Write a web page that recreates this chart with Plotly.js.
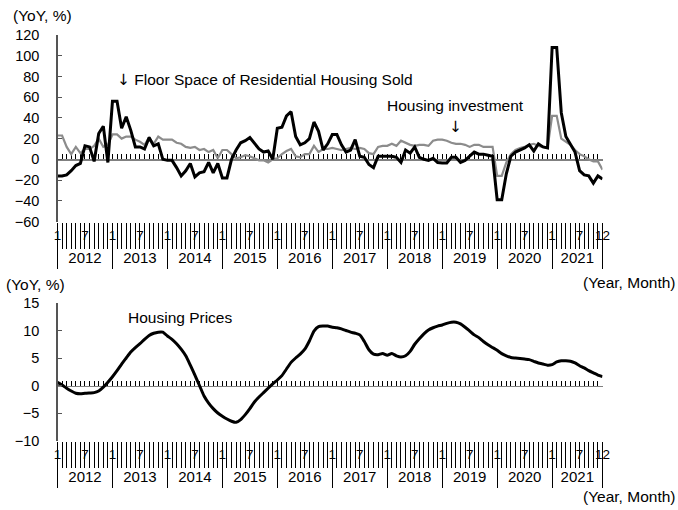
<!DOCTYPE html>
<html>
<head>
<meta charset="utf-8">
<script src="https://cdn.plot.ly/plotly-3.0.1.min.js"></script>
<style>
  html, body { margin: 0; padding: 0; background: #fff; }
  #chart { width: 678px; height: 510px; }
</style>
</head>
<body>
<div id="chart"></div>
<script>
/* ── Data: monthly YoY %, Jan 2012 .. Dec 2021 (index 0..119) ── */
const floorSold = [
  -16, -16, -15, -11, -6, -4, 13, 12, -2, 25, 32, -3,
  56, 56, 30, 41, 28, 12, 12, 10, 21, 13, 15, 0,
  -1, -1, -8, -16, -11, -4, -17, -13, -12, -3, -13, -4,
  -18, -18, 0, 9, 16, 18, 21, 15, 10, 7, 8, 0,
  30, 31, 42, 46, 22, 14, 16, 20, 36, 27, 9, 15,
  24, 24, 14, 7, 9, 19, 3, 2, -5, -8, 3, 3,
  3, 3, 2, -3, 9, 6, 12, 2, 0, -1, 1, -3,
  -3.5, -3.5, 2, 2, -3, -1, 3, 7, 5, 5, 4, 3,
  -39, -39, -14, 3, 7, 9, 11, 14, 8, 15, 12, 11,
  108, 108, 45, 22, 14, 7, -11, -15, -16, -23, -16, -19
];
const housingInvest = [
  23, 23, 12, 5, 12, 6, 10, 10, 13, 20, 12, 14,
  24, 24, 20, 22, 22, 19, 17, 14, 21, 15, 22, 19,
  19, 19, 16, 15, 12, 11, 12, 9, 10, 7, 9, 1,
  9, 9, 5, 1, 2, 4, 3, 1, -1, -1, -3, 0,
  1, 5, 8, 10, 3, 2, 5, 5, 13, 7, 10, 10,
  11, 10, 9, 10, 11, 10, 11, 10, 6, 5, 12, 13,
  13, 15, 13, 18, 16, 14, 13, 14, 14, 13, 18, 19,
  19, 18, 16, 15, 15, 14, 12, 14, 14, 12, 12, 12,
  -16, -16, -3, 5, 9, 11, 12, 14, 15, 13, 12, 11,
  42, 42, 20, 17, 14, 9, 5, 3, 0, -2, -2, -10
];
const housingPrices = [
  0.6, 0.1, -0.5, -1.0, -1.4, -1.5, -1.4, -1.35, -1.3, -1.0, -0.3, 0.6,
  1.6, 2.7, 3.9, 5.0, 6.1, 6.9, 7.6, 8.4, 9.1, 9.5, 9.7, 9.7,
  9.0, 8.4, 7.6, 6.6, 5.4, 3.7, 1.9, 0.0, -1.9, -3.2, -4.2, -5.0,
  -5.6, -6.1, -6.5, -6.7, -6.2, -5.3, -4.2, -3.0, -2.1, -1.3, -0.5, 0.3,
  1.0, 1.8, 3.0, 4.2, 5.0, 5.7, 6.6, 8.1, 9.9, 10.7, 10.8, 10.8,
  10.6, 10.5, 10.3, 10.0, 9.7, 9.5, 9.2, 8.0, 6.5, 5.7, 5.6, 5.8,
  5.5, 5.8, 5.4, 5.2, 5.4, 6.2, 7.5, 8.5, 9.4, 10.1, 10.5, 10.8,
  11.0, 11.3, 11.5, 11.5, 11.2, 10.6, 9.9, 9.2, 8.7, 8.0, 7.4, 6.9,
  6.4, 5.8, 5.4, 5.1, 5.0, 4.9, 4.8, 4.7, 4.4, 4.1, 3.9, 3.7,
  3.8, 4.3, 4.5, 4.5, 4.4, 4.1, 3.6, 3.2, 2.7, 2.3, 1.9, 1.6
];
const years = [2012, 2013, 2014, 2015, 2016, 2017, 2018, 2019, 2020, 2021];
const monthLabels = ['1', '7'];          // labelled months within each year
const lastMonthLabel = '12';
const topTicks = [-60, -40, -20, 0, 20, 40, 60, 80, 100, 120];
const bottomTicks = [-10, -5, 0, 5, 10, 15];

/* ── Derived axis helpers ─────────────────────────────────── */
const N = floorSold.length;
const idx = floorSold.map((_, i) => i);
const last = N - 1;
const yearStarts = years.map((_, k) => k * 12);
const yearEdges = yearStarts.concat([last]);
const yearMids = yearStarts.map(s => Math.min(s + 6, (s + last) / 2));
const labelVals = [], labelText = [];
yearStarts.forEach(s => { labelVals.push(s, s + 6); labelText.push(...monthLabels); });
labelVals.push(last); labelText.push(lastMonthLabel);

/* ── Pixel → paper helpers (margins are zero) ─────────────── */
const W = 678, H = 510;
const fx = px => px / W;
const fy = py => 1 - py / H;
const FONT = 'Liberation Sans, Arial, sans-serif';
const ARROW = '<span style="font-family:DejaVu Sans">↓\uFE0E</span>';
const XD = [fx(57.5), fx(602.5)];

const extraTraces = [];

function panelAxes(p) {
  // p: {x0: first x axis number, y: y axis id, bottomPx, topPx, range}
  const yr = p.range;
  const yDom = [fy(p.bottomPx), fy(p.topPx)];
  const zeroPos = yDom[0] + (yDom[1] - yDom[0]) * (0 - yr[0]) / (yr[1] - yr[0]);
  const base = { domain: XD, range: [0, last], showgrid: false, zeroline: false,
                 showline: false, fixedrange: true };
  const n = p.x0;
  const k = i => (i === 1 ? 'xaxis' : 'xaxis' + i);
  const ref = n === 1 ? 'x' : 'x' + n;
  const out = {};
  out[k(n)] = Object.assign({}, base, {
    anchor: p.y, ticks: 'outside', ticklen: 26, tickwidth: 1, tickcolor: '#000',
    tickmode: 'array', tickvals: idx, showticklabels: false
  });
  out[k(n + 1)] = Object.assign({}, base, {
    overlaying: ref, anchor: p.y, ticks: 'outside', ticklen: 46, tickwidth: 1,
    tickcolor: '#000', tickmode: 'array', tickvals: yearEdges, showticklabels: false
  });
  out[k(n + 2)] = Object.assign({}, base, {
    overlaying: ref, anchor: 'free', position: fy(p.bottomPx + 4), ticks: '',
    tickmode: 'array', tickvals: labelVals, ticktext: labelText,
    tickfont: { family: FONT, size: 13.5, color: '#000' }
  });
  out[k(n + 3)] = Object.assign({}, base, {
    overlaying: ref, anchor: 'free', position: fy(p.bottomPx + 25), ticks: '',
    tickmode: 'array', tickvals: yearMids, ticktext: years.map(String),
    tickfont: { family: FONT, size: 15, color: '#000' }
  });
  out[k(n + 4)] = Object.assign({}, base, {
    overlaying: ref, anchor: 'free', position: zeroPos, showline: true,
    linecolor: '#808080', linewidth: 1.5, layer: 'below traces',
    ticks: 'inside', ticklen: 5, tickwidth: 1, tickcolor: '#000',
    tickmode: 'array', tickvals: idx, showticklabels: false
  });
  // overlay axes need a trace to be drawn
  for (let j = n + 1; j <= n + 4; j++) {
    extraTraces.push({ type: 'scatter', mode: 'lines', x: [0], y: [null],
      xaxis: 'x' + j, yaxis: p.y, hoverinfo: 'skip', showlegend: false });
  }
  const yk = p.y === 'y' ? 'yaxis' : 'yaxis' + p.y.slice(1);
  out[yk] = {
    domain: yDom, range: yr, anchor: ref, showgrid: false, zeroline: false,
    showline: true, linecolor: '#555', linewidth: 1.2,
    ticks: 'inside', ticklen: 4, tickcolor: '#555', tickmode: 'array',
    tickvals: p.ticks, ticklabelstandoff: 14, fixedrange: true,
    tickfont: { family: FONT, size: 14.5, color: '#000' }
  };
  return out;
}

const txt = (o) => Object.assign({ showarrow: false, font: { family: FONT, size: 15.5, color: '#000' } }, o);

const layout = Object.assign({
  width: W, height: H,
  margin: { l: 0, r: 0, t: 0, b: 0 },
  paper_bgcolor: '#fff', plot_bgcolor: 'rgba(0,0,0,0)',
  showlegend: false,
  font: { family: FONT, size: 14, color: '#000' },
  annotations: [
    txt({ xref: 'paper', yref: 'paper', x: fx(11), y: fy(15), xanchor: 'left', yanchor: 'middle', text: '(YoY, %)' }),
    txt({ xref: 'paper', yref: 'paper', x: fx(4), y: fy(284), xanchor: 'left', yanchor: 'middle', text: '(YoY, %)' }),
    txt({ xref: 'paper', yref: 'paper', x: fx(677), y: fy(282), xanchor: 'right', yanchor: 'middle', text: '(Year, Month)' }),
    txt({ xref: 'paper', yref: 'paper', x: fx(677), y: fy(496), xanchor: 'right', yanchor: 'middle', text: '(Year, Month)' }),
    txt({ xref: 'x', yref: 'y', x: 12.6, y: 76.5, xanchor: 'left', yanchor: 'middle',
          text: ARROW + ' Floor Space of Residential Housing Sold' }),
    txt({ xref: 'x', yref: 'y', x: 86.8, y: 52, xanchor: 'center', yanchor: 'middle', text: 'Housing investment' }),
    txt({ xref: 'x', yref: 'y', x: 86.8, y: 31, xanchor: 'center', yanchor: 'middle', text: ARROW }),
    txt({ xref: 'x6', yref: 'y2', x: 26.8, y: 12.4, xanchor: 'center', yanchor: 'middle', text: 'Housing Prices' })
  ]
},
  panelAxes({ x0: 1, y: 'y', bottomPx: 221.5, topPx: 35, range: [-60, 120], ticks: topTicks }),
  panelAxes({ x0: 6, y: 'y2', bottomPx: 440.5, topPx: 303, range: [-10, 15], ticks: bottomTicks })
);

const traces = [
  { x: idx, y: housingInvest, xaxis: 'x', yaxis: 'y', type: 'scatter', mode: 'lines',
    name: 'Housing investment', line: { color: '#8c8c8c', width: 2.2 } },
  { x: idx, y: floorSold, xaxis: 'x', yaxis: 'y', type: 'scatter', mode: 'lines',
    name: 'Floor Space of Residential Housing Sold', line: { color: '#000', width: 3 } },
  { x: idx, y: housingPrices, xaxis: 'x6', yaxis: 'y2', type: 'scatter', mode: 'lines',
    name: 'Housing Prices', line: { color: '#000', width: 3, shape: 'spline', smoothing: 0.6 } }
].concat(extraTraces);

Plotly.newPlot('chart', traces, layout, { staticPlot: true, displayModeBar: false });
</script>
</body>
</html>
